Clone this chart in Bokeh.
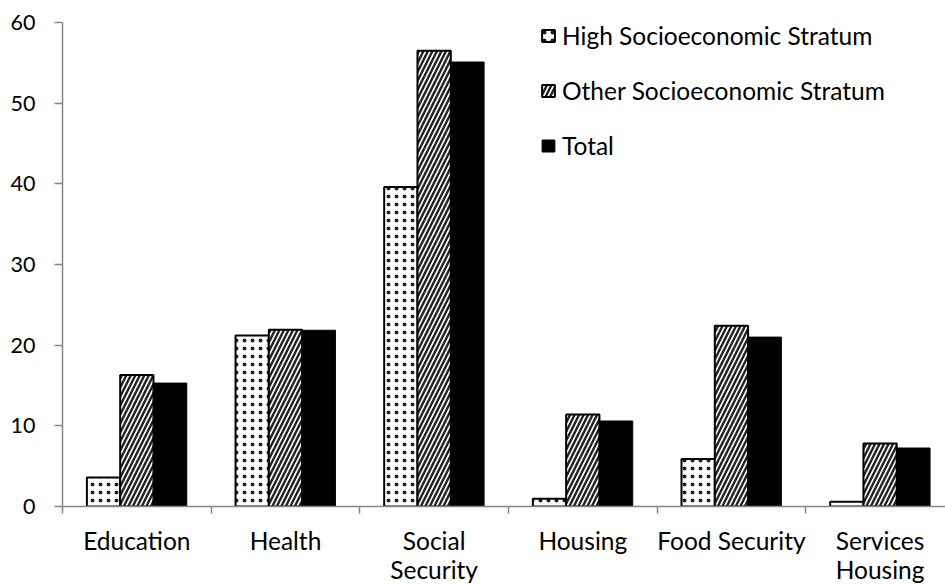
import numpy as np
from bokeh.plotting import figure
from bokeh.layouts import column
from bokeh.models import Range1d, FixedTicker, Legend, LegendItem, ColumnDataSource
from bokeh.core.properties import value
from bokeh.embed import file_html
from bokeh.resources import INLINE

categories = ["Education", "Health", "Social\nSecurity", "Housing", "Food Security", "Services\nHousing"]
high_stratum = [3.6, 21.2, 39.6, 0.95, 5.9, 0.6]
other_stratum = [16.3, 21.9, 56.5, 11.4, 22.4, 7.8]
total = [15.3, 21.85, 55.1, 10.6, 21.0, 7.25]
y_ticks = [0, 10, 20, 30, 40, 50, 60]

FONT = "Lato"
LABEL_SIZE = "24.5px"
TICK_SIZE = "21.5px"
AXIS_GREY = "#868686"

CHART_H = 526      # main chart canvas
NAMES_H = 58       # strip with the group names below it
LEFT = 62

centers = np.arange(len(categories)) + 0.5
bar_w = 0.224
x_range = Range1d(0, 5.94)

p = figure(width=945, height=CHART_H, output_backend="svg", toolbar_location=None,
           x_range=x_range, y_range=Range1d(0, 60),
           min_border_left=LEFT, min_border_right=0, min_border_top=22, min_border_bottom=20)
p.outline_line_color = None
p.xgrid.visible = False
p.ygrid.visible = False
p.background_fill_color = "white"
p.border_fill_color = "white"

r_high = p.vbar(x=centers - bar_w, top=high_stratum, width=bar_w, bottom=0,
                fill_color="white", line_color="black", line_width=2,
                hatch_pattern="dot", hatch_color="#222222", hatch_scale=8, hatch_weight=2.2)
r_other = p.vbar(x=centers, top=other_stratum, width=bar_w, bottom=0,
                 fill_color="white", line_color="black", line_width=2,
                 hatch_pattern="right_diagonal_line", hatch_color="#222222",
                 hatch_scale=9, hatch_weight=2.4)
r_total = p.vbar(x=centers + bar_w, top=total, width=bar_w, bottom=0,
                 fill_color="black", line_color="black", line_width=1)

# x axis: only the small ticks between groups
xa = p.xaxis[0]
xa.ticker = FixedTicker(ticks=[], minor_ticks=list(range(len(categories) + 1)))
xa.major_tick_out = 0
xa.major_tick_in = 0
xa.minor_tick_out = 7
xa.minor_tick_in = 0
xa.minor_tick_line_color = AXIS_GREY
xa.minor_tick_line_width = 1.5
xa.axis_line_color = AXIS_GREY
xa.axis_line_width = 1.5
xa.major_label_standoff = 0
xa.major_label_text_font_size = "0px"

ya = p.yaxis[0]
ya.ticker = FixedTicker(ticks=y_ticks, minor_ticks=[])
ya.major_tick_out = 8
ya.major_tick_in = 0
ya.major_tick_line_color = AXIS_GREY
ya.major_tick_line_width = 1.5
ya.axis_line_color = AXIS_GREY
ya.axis_line_width = 1.5
ya.major_label_standoff = 19
ya.major_label_text_font = FONT
ya.major_label_text_font_size = TICK_SIZE
ya.major_label_text_color = "black"

legend = Legend(items=[
    LegendItem(label="High Socioeconomic Stratum", renderers=[r_high]),
    LegendItem(label="Other Socioeconomic Stratum", renderers=[r_other]),
    LegendItem(label="Total", renderers=[r_total]),
], location=(478, 346))
legend.glyph_width = 16
legend.glyph_height = 15
legend.label_standoff = 6
legend.spacing = 26
legend.padding = 0
legend.margin = 0
legend.border_line_color = None
legend.background_fill_alpha = 0
legend.label_text_font = FONT
legend.label_text_font_size = LABEL_SIZE
legend.label_text_color = "black"
p.add_layout(legend, "center")

# group names in a strip sharing the chart's x range; y counts pixels from the strip bottom
name_x, name_y, name_text = [], [], []
for c, name in zip(centers, categories):
    for k, part in enumerate(name.split("\n")):
        name_x.append(c)
        name_y.append(NAMES_H - 14 - 29 * k)
        name_text.append(part)
names = figure(width=945, height=NAMES_H, output_backend="svg", toolbar_location=None,
               x_range=x_range, y_range=Range1d(0, NAMES_H),
               x_axis_type=None, y_axis_type=None,
               min_border_left=LEFT, min_border_right=0, min_border_top=0, min_border_bottom=0)
names.outline_line_color = None
names.xgrid.visible = False
names.ygrid.visible = False
names.text(x="x", y="y", text="text",
           source=ColumnDataSource(dict(x=name_x, y=name_y, text=name_text)),
           text_align="center", text_baseline="middle",
           text_font=value(FONT), text_font_size=value(LABEL_SIZE), text_color="black")

layout = column(p, names, spacing=0)
open("out.html", "w").write(file_html(layout, INLINE))
